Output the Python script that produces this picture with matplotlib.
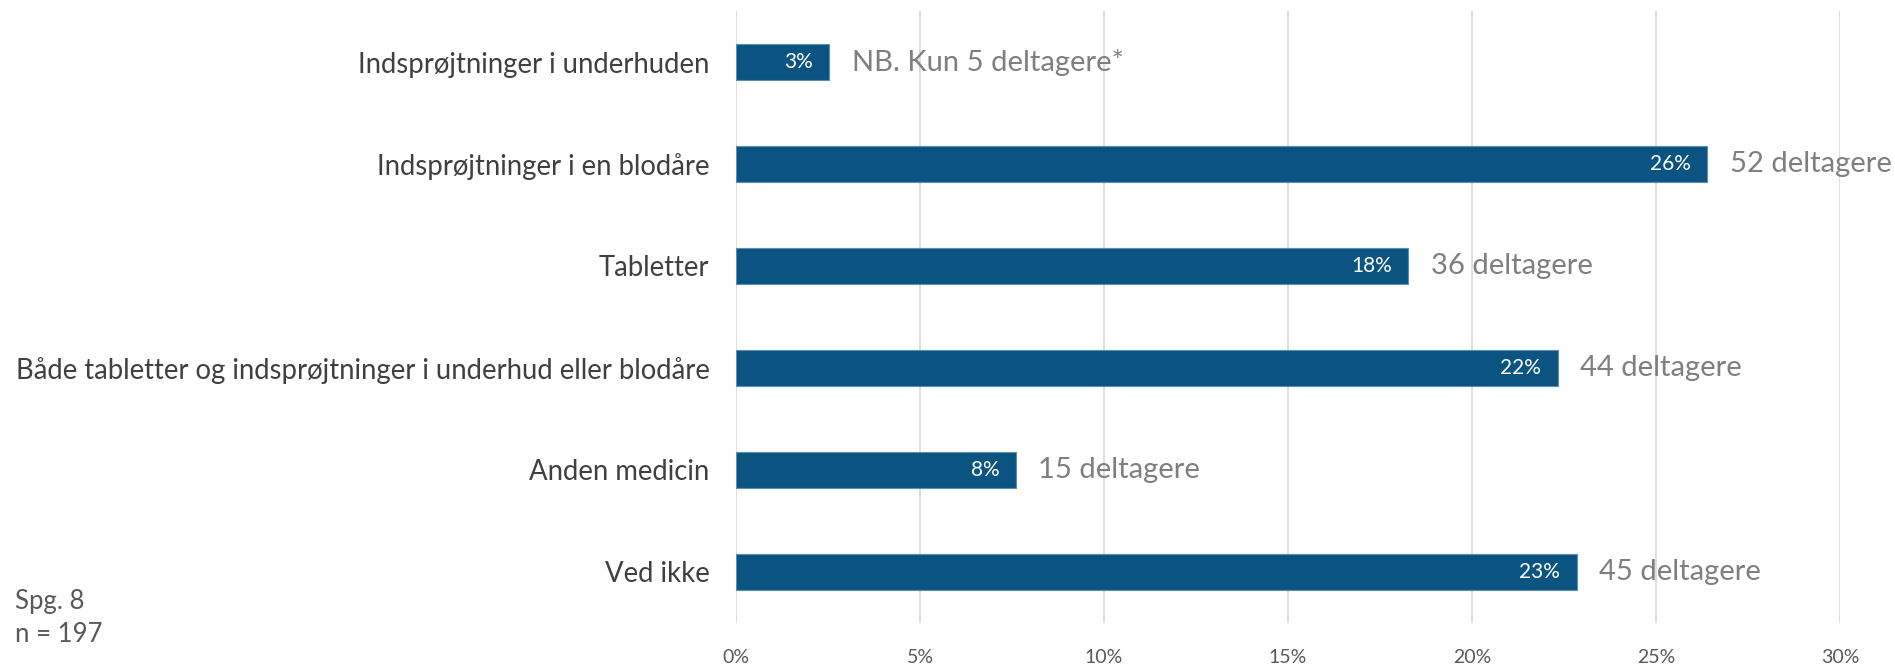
import matplotlib
matplotlib.use("Agg")
import matplotlib.pyplot as plt
from matplotlib.ticker import FuncFormatter

categories = [
    "Indsprøjtninger i underhuden",
    "Indsprøjtninger i en blodåre",
    "Tabletter",
    "Både tabletter og indsprøjtninger i underhud eller blodåre",
    "Anden medicin",
    "Ved ikke",
]
counts = [5, 52, 36, 44, 15, 45]
total = 197
percent = [c / total * 100 for c in counts]
value_labels = ["3%", "26%", "18%", "22%", "8%", "23%"]
count_labels = ["NB. Kun 5 deltagere*", "52 deltagere", "36 deltagere",
                "44 deltagere", "15 deltagere", "45 deltagere"]
x_ticks = [0, 5, 10, 15, 20, 25, 30]

plt.rcParams['font.family'] = ['Lato', 'DejaVu Sans']

W, H = 1895, 666
fig = plt.figure(figsize=(W / 100, H / 100), dpi=100)
left, right = 736 / W, 1840 / W
top, bottom = 1 - 11 / H, 1 - 623 / H
ax = fig.add_axes([left, bottom, right - left, top - bottom])

bar_color = "#0B5380"
ypos = list(range(len(categories)))
ax.barh(ypos, percent, height=0.35, color=bar_color, edgecolor="#5B8DB5",
        linewidth=0.8, zorder=3)

ax.set_xlim(0, 30)
ax.set_ylim(len(categories) - 0.5, -0.5)
ax.set_xticks(x_ticks)
ax.xaxis.set_major_formatter(FuncFormatter(lambda v, p: f"{int(v)}%"))
ax.grid(axis="x", color="#D9D9D9", linewidth=1.2, zorder=0)
for s in ax.spines.values():
    s.set_visible(False)
ax.tick_params(axis="both", length=0)
ax.tick_params(axis="x", labelsize=14, labelcolor="#595959", pad=19)
ax.set_yticks(ypos)
ax.set_yticklabels(categories, fontsize=19.8, color="#404040")
ax.tick_params(axis="y", pad=19)

for y, p, vl, cl in zip(ypos, percent, value_labels, count_labels):
    ax.annotate(vl, xy=(p, y), xytext=(-12, 0), textcoords="offset points",
                ha="right", va="center", color="white", fontsize=15, zorder=4)
    ax.annotate(cl, xy=(p, y), xytext=(16, 0), textcoords="offset points",
                ha="left", va="center", color="#7F7F7F", fontsize=21, zorder=4)

fig.text(15 / W, 1 - 601 / H, "Spg. 8", fontsize=18.5, color="#595959", va="center", ha="left")
fig.text(15 / W, 1 - 634 / H, "n = 197", fontsize=18.5, color="#595959", va="center", ha="left")

fig.savefig("out.png", dpi=100, facecolor="white")
